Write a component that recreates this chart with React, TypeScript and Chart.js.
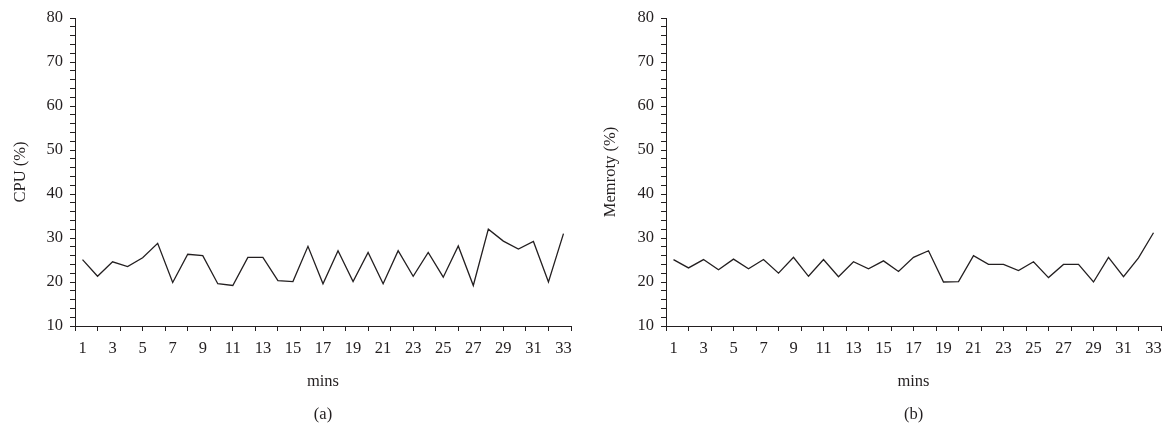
import React, { useEffect, useRef } from "react";
import { Chart, registerables } from "chart.js";

Chart.register(...registerables);

const mins = [1, 2, 3, 4, 5, 6, 7, 8, 9, 10, 11, 12, 13, 14, 15, 16, 17, 18, 19, 20, 21, 22, 23, 24, 25, 26, 27, 28, 29, 30, 31, 32, 33];
const cpuValues = [25.1, 21.3, 24.6, 23.5, 25.5, 28.8, 19.9, 26.3, 26.0, 19.6, 19.2, 25.6, 25.6, 20.3, 20.1, 28.1, 19.6, 27.1, 20.1, 26.7, 19.6, 27.1, 21.3, 26.7, 21.1, 28.2, 19.2, 32.0, 29.3, 27.5, 29.2, 20.0, 31.0];
const memoryValues = [25.1, 23.2, 25.1, 22.8, 25.2, 23.0, 25.1, 22.0, 25.6, 21.3, 25.1, 21.2, 24.6, 23.0, 24.8, 22.4, 25.6, 27.1, 20.0, 20.1, 26.0, 24.0, 24.0, 22.6, 24.6, 21.0, 24.0, 24.0, 20.0, 25.6, 21.2, 25.5, 31.2];
const xTickLabels = [1, 3, 5, 7, 9, 11, 13, 15, 17, 19, 21, 23, 25, 27, 29, 31, 33];
const yTickLabels = [10, 20, 30, 40, 50, 60, 70, 80];
const xTickMarks = [0.5, 2, 3.5, 5, 6.5, 8, 9.5, 11, 12.5, 14, 15.5, 17, 18.5, 20, 21.5, 23, 24.5, 26, 27.5, 29, 30.5, 32, 33.5];

const INK = "#231f20";
const FONT = "'Liberation Serif', 'Times New Roman', serif";

type PanelProps = {
  values: number[];
  yTitle: string;
  caption: string;
  left: number;
  width: number;
  axisWidth: number;
  padRight: number;
  yTitlePad: number;
};

function Panel({ values, yTitle, caption, left, width, axisWidth, padRight, yTitlePad }: PanelProps) {
  const ref = useRef<HTMLCanvasElement | null>(null);
  useEffect(() => {
    if (!ref.current) return;
    const markSet = new Set(xTickMarks);
    const labelSet = new Set(xTickLabels);
    const allX = Array.from(new Set([...xTickMarks, ...xTickLabels])).sort((a, b) => a - b);
    const chart = new Chart(ref.current, {
      type: "line",
      data: {
        datasets: [
          {
            data: values.map((v, i) => ({ x: mins[i], y: v })),
            borderColor: INK,
            borderWidth: 1.3,
            pointRadius: 0,
            tension: 0,
            fill: false,
          },
        ],
      },
      options: {
        responsive: false,
        animation: false,
        layout: { padding: { left: 0, right: padRight, top: 18, bottom: 0 } },
        plugins: { legend: { display: false }, tooltip: { enabled: false } },
        scales: {
          x: {
            type: "linear",
            min: 0.5,
            max: 33.5,
            afterBuildTicks: (scale: any) => {
              scale.ticks = allX.map((v) => ({ value: v }));
            },
            afterFit: (scale: any) => {
              scale.height = 108;
            },
            ticks: {
              autoSkip: false,
              maxRotation: 0,
              minRotation: 0,
              padding: 8,
              color: INK,
              font: { family: FONT, size: 16.5 },
              callback: (value: any) => (labelSet.has(Number(value)) ? String(value) : ""),
            },
            grid: {
              drawOnChartArea: false,
              drawTicks: true,
              tickLength: 5,
              tickWidth: 1,
              tickColor: (ctx: any) => (ctx.tick && markSet.has(ctx.tick.value) ? INK : "rgba(0,0,0,0)"),
            },
            border: { display: true, color: INK, width: 1 },
            title: {
              display: true,
              text: ["mins", caption],
              color: INK,
              font: { family: FONT, size: 16.5, lineHeight: 2.05 },
              padding: { top: 0, bottom: 2 },
            },
          },
          y: {
            type: "linear",
            min: 10,
            max: 80,
            afterFit: (scale: any) => {
              scale.width = axisWidth;
            },
            ticks: {
              stepSize: 2,
              autoSkip: false,
              padding: 7,
              color: INK,
              font: { family: FONT, size: 16.5 },
              callback: (value: any) => (yTickLabels.includes(Number(value)) ? String(value) : ""),
            },
            grid: {
              drawOnChartArea: false,
              drawTicks: true,
              tickLength: 5,
              tickWidth: 1,
              tickColor: INK,
            },
            border: { display: true, color: INK, width: 1 },
            title: {
              display: true,
              text: yTitle,
              color: INK,
              font: { family: FONT, size: 16.5, lineHeight: 1.15 },
              padding: { top: yTitlePad, bottom: 0 },
            },
          },
        },
      },
    } as any);
    return () => chart.destroy();
  }, [values, yTitle, caption, axisWidth, padRight, yTitlePad]);
  return (
    <canvas
      ref={ref}
      width={width}
      height={434}
      style={{ position: "absolute", left, top: 0, width, height: 434, display: "block" }}
    />
  );
}

export default function App() {
  return (
    <div style={{ position: "absolute", left: 0, top: 0, width: 1169, height: 434, background: "#fff" }}>
      <Panel values={cpuValues} yTitle="CPU (%)" caption="(a)" left={0} width={584} axisWidth={75} padRight={13} yTitlePad={11} />
      <Panel values={memoryValues} yTitle="Memroty (%)" caption="(b)" left={584} width={585} axisWidth={82} padRight={5} yTitlePad={17} />
    </div>
  );
}
